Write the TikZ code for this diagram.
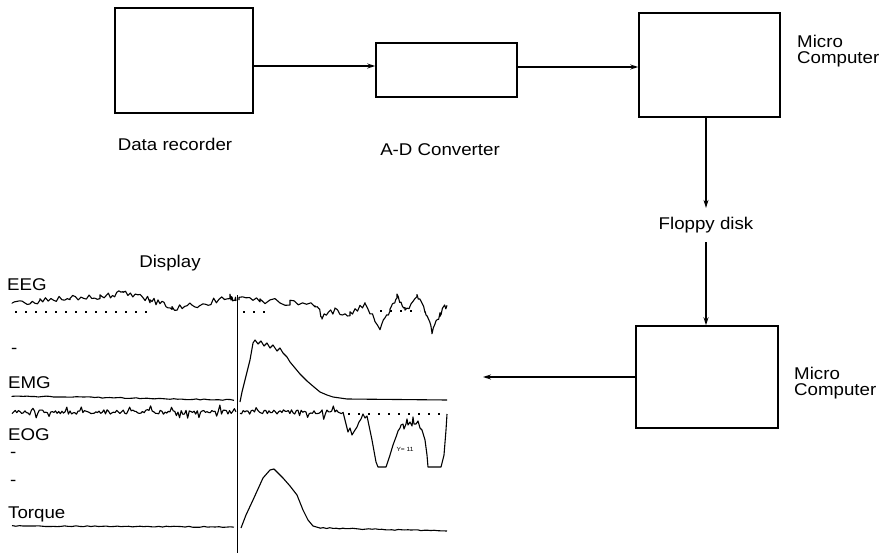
\documentclass[tikz,border=0pt]{standalone}
\usepackage{fontspec}
\setmainfont{Liberation Sans}[FakeStretch=1.1]
\usetikzlibrary{arrows.meta}
\begin{document}
\begin{tikzpicture}[x=1pt,y=-1pt,
  every node/.style={font=\fontsize{17}{16}\selectfont},
  box/.style={draw, line width=1.5pt, inner sep=0pt},
  arr/.style={-{Stealth[length=8pt,width=5pt]}, line width=1.1pt},
  lbl/.style={anchor=base, inner sep=0pt},
  lbll/.style={anchor=base west, inner sep=0pt},
  trace/.style={line width=1.1pt, line join=round},
  refdots/.style={line width=1.1pt, dash pattern=on 2pt off 8pt}
]
\useasboundingbox (0,0) rectangle (881,559);
\pgfmathsetseed{11}

% ---------- block diagram ----------
\node[box, minimum width=138pt, minimum height=105pt] (dr) at (184,60.5) {};
\node[box, minimum width=141pt, minimum height=54pt] (adc) at (446.5,70) {};
\node[box, minimum width=141pt, minimum height=104pt] (mc1) at (709.5,65) {};
\node[box, minimum width=142pt, minimum height=102pt] (mc2) at (707,377) {};

\node[lbl] (drl) at (175,150) {Data recorder};
\node[lbl] (adcl) at (440,156) {A-D Converter};
\node[anchor=north west, align=left, inner sep=0pt] (mc1l) at (797,35) {Micro\\Computer};
\node[anchor=north west, align=left, inner sep=0pt] (mc2l) at (794,367) {Micro\\Computer};
\node[inner ysep=9pt, inner xsep=2pt] (fd) at (706,225) {Floppy disk};

\draw[arr] ([yshift=-5.5pt]dr.east) -- ([yshift=-5.5pt]dr.east -| adc.west);
\draw[arr] ([yshift=3pt]adc.east) -- ([yshift=3pt]adc.east -| mc1.west);
\draw[arr] (mc1.south -| fd.north) -- (fd.north);
\draw[arr] (fd.south) -- (fd.south |- mc2.north);
\coordinate (dispin) at (483,375);
\draw[arr] (mc2.west) -- (mc2.west -| dispin);

% ---------- display ----------
\node[lbl] (disp) at (170,267) {Display};
\node[lbll] (eeg) at (7,290) {EEG};
\node[lbll] (d1) at (11,353) {-};
\node[lbll] (emg) at (8,388) {EMG};
\node[lbll] (eog) at (8,440) {EOG};
\node[lbll] (d2) at (10,457) {-};
\node[lbll] (d3) at (10,485) {-};
\node[lbll] (torq) at (8,518) {Torque};
\node[anchor=base, inner sep=0pt, font=\fontsize{6}{6}\selectfont] (yv) at (405,451) {Y= 11};

% time marker
\coordinate (vt) at (237.5,295);
\coordinate (vb) at (237.5,553);
\draw[line width=1.3pt] (vt) -- (vb);

% EEG reference dots
\draw[refdots] (15,312) -- (150,312);
\draw[refdots] (243,312) -- (270,312);
\draw[refdots] (380,311) -- (420,311);

% EEG traces (drift + noise)
\draw[trace] (12,303)
  \foreach \xa/\ya/\xb/\yb in {12/303/40/301, 40/301/70/298, 70/298/100/297, 100/297/123/293,
     123/293/150/300, 150/300/172/308, 172/308/200/305, 200/305/230/297, 230/297/236/299}
  { -- plot[domain=\xa:\xb, samples=12] (\x, {\ya+(\yb-\ya)*(\x-\xa)/(\xb-\xa) + 3.2*rand}) };
\draw[trace] (239,300)
  \foreach \xa/\ya/\xb/\yb in {239/300/260/300, 260/300/290/303, 290/303/315/304, 315/304/322/316,
     322/316/335/311, 335/311/350/314, 350/314/365/305, 365/305/380/327, 380/327/390/310,
     390/310/397/297, 397/297/405/310, 405/310/417/297, 417/297/425/310, 425/310/432/332,
     432/332/440/314, 440/314/447/305}
  { -- plot[domain=\xa:\xb, samples=7] (\x, {\ya+(\yb-\ya)*(\x-\xa)/(\xb-\xa) + 3.2*rand}) };

% EMG
\draw[trace] (12,396) -- plot[domain=12:234, samples=60] (\x, {396+4*(\x-12)/222 + 0.5*rand});
\draw[trace] (240,402) -- (242,392) -- (245,380) -- (250,360) -- (253,343) -- (255,340)
  -- (258,344) -- (261,341) -- (264,346) -- (267,343) -- (270,348) -- (273,345) -- (277,351)
  -- (280,348) -- (283,353) -- (287,357) -- (290,362) -- (295,368) -- (300,374) -- (307,381)
  -- (314,387) -- (320,392) -- (327,395) -- (333,397) -- (347,399) -- (447,400);

% EOG
\draw[trace] plot[domain=12:236, samples=140] (\x, {412 + 2.2*rand + (rnd>0.8)*6*rand});
\draw[trace] plot[domain=240:343, samples=65] (\x, {412 + 2.2*rand + (rnd>0.8)*6*rand});
\draw[refdots] (348,414) -- (446,414);
\draw[trace] (343,412) -- (346,424) -- (348,432) -- (350,428) -- (352,435) -- (355,430)
  -- (357,427) -- (359,422) -- (361,419) -- (363,414) -- (365,418) -- (367,416)
  -- (372,440) -- (376,462) -- (378,467) -- (386,467) -- (390,455)
  -- (393,445) -- (396,437) -- (398,431) -- (400,428) -- (401,425) -- (403,424) -- (404,429)
  -- (406,424) -- (407,419) -- (408,425) -- (410,422) -- (412,426) -- (413,417) -- (414,424)
  -- (416,424) -- (418,421) -- (420,428) -- (422,430)
  -- (425,440) -- (427,455) -- (428,467) -- (441,467) -- (444,455)
  -- (446,430) -- (447,414);

% Torque
\draw[trace] plot[domain=12:234, samples=60] (\x, {526+1*(\x-12)/222 + 0.5*rand});
\draw[trace] (241,528) -- (246,515) -- (253,500) -- (263,478) -- (270,470) -- (274,469)
  -- (283,478) -- (290,486) -- (297,495) -- (303,510) -- (308,520) -- (313,526) -- (320,528)
  -- plot[domain=320:447, samples=40] (\x, {528+3*(\x-320)/127 + 0.5*rand});
\end{tikzpicture}
\end{document}
